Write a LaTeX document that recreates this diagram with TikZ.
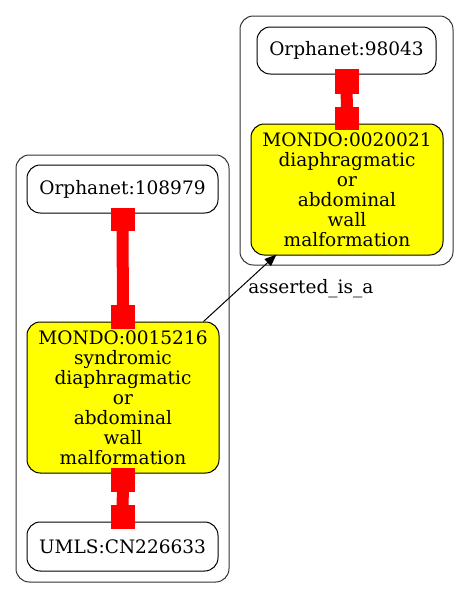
\documentclass[tikz,border=0pt]{standalone}
\usepackage{fontspec}
\setmainfont{DejaVu Serif}
\usetikzlibrary{arrows.meta,calc}
\definecolor{gvyellow}{RGB}{255,255,0}
\definecolor{gvred}{RGB}{255,0,0}
\begin{document}
\begin{tikzpicture}[x=0.75pt,y=-0.75pt,
  every node/.style={font=\fontsize{13.9}{15}\selectfont},
  cluster/.style={draw=black!80, line width=0.75pt, rounded corners=10pt},
  term/.style={draw=black, line width=0.75pt, rounded corners=10pt, align=center, inner sep=0pt, fill=white},
  mondo/.style={term, fill=gvyellow},
  redbar/.style={draw=gvred, line width=9pt},
  redtee/.style={fill=gvred},
  assert/.style={draw=black, line width=0.75pt, -{Triangle[length=9pt,width=7pt]}}
]
\useasboundingbox (0,0) rectangle (469,597);
% clusters
\draw[cluster] (240,16) rectangle (453,265);
\draw[cluster] (16,155) rectangle (229,582);
% nodes
\node[term, minimum width=134.25pt, minimum height=35.25pt] (o2) at (346.5,50.5) {Orphanet:98043};
\node[mondo, minimum width=144pt, minimum height=98.25pt] (m2) at (347,189.5) {MONDO:0020021\\diaphragmatic\\or\\abdominal\\wall\\malformation};
\node[term, minimum width=143.25pt, minimum height=36pt] (o1) at (122.5,189) {Orphanet:108979};
\node[mondo, minimum width=144pt, minimum height=113.25pt] (m1) at (123,397.5) {MONDO:0015216\\syndromic\\diaphragmatic\\or\\abdominal\\wall\\malformation};
\node[term, minimum width=143.25pt, minimum height=36.75pt] (u1) at (122.5,546.5) {UMLS:CN226633};
% red tee edges
\draw[redbar] (o2.south) -- (m2.north);
\fill[redtee] ($(o2.south)+(-12,-6)$) rectangle ($(o2.south)+(12,19)$);
\fill[redtee] ($(m2.north)+(-12,-17)$) rectangle ($(m2.north)+(12,6)$);
\draw[redbar] (o1.south) -- (m1.north);
\fill[redtee] ($(o1.south)+(-12,-6)$) rectangle ($(o1.south)+(12,17)$);
\fill[redtee] ($(m1.north)+(-12,-17)$) rectangle ($(m1.north)+(12,7)$);
\draw[redbar] (m1.south) -- (u1.north);
\fill[redtee] ($(m1.south)+(-12,-6)$) rectangle ($(m1.south)+(12,18)$);
\fill[redtee] ($(u1.north)+(-12,-17)$) rectangle ($(u1.north)+(12,7)$);
% asserted_is_a edge
\coordinate (s) at ($(m1.north east)+(-16,0)$);
\coordinate (t) at ($(m2.south west)+(26,-1)$);
\draw[assert] (s) -- (t);
\node[anchor=base west, inner sep=0pt] (lab) at (248,293) {asserted\_is\_a};
\end{tikzpicture}
\end{document}
